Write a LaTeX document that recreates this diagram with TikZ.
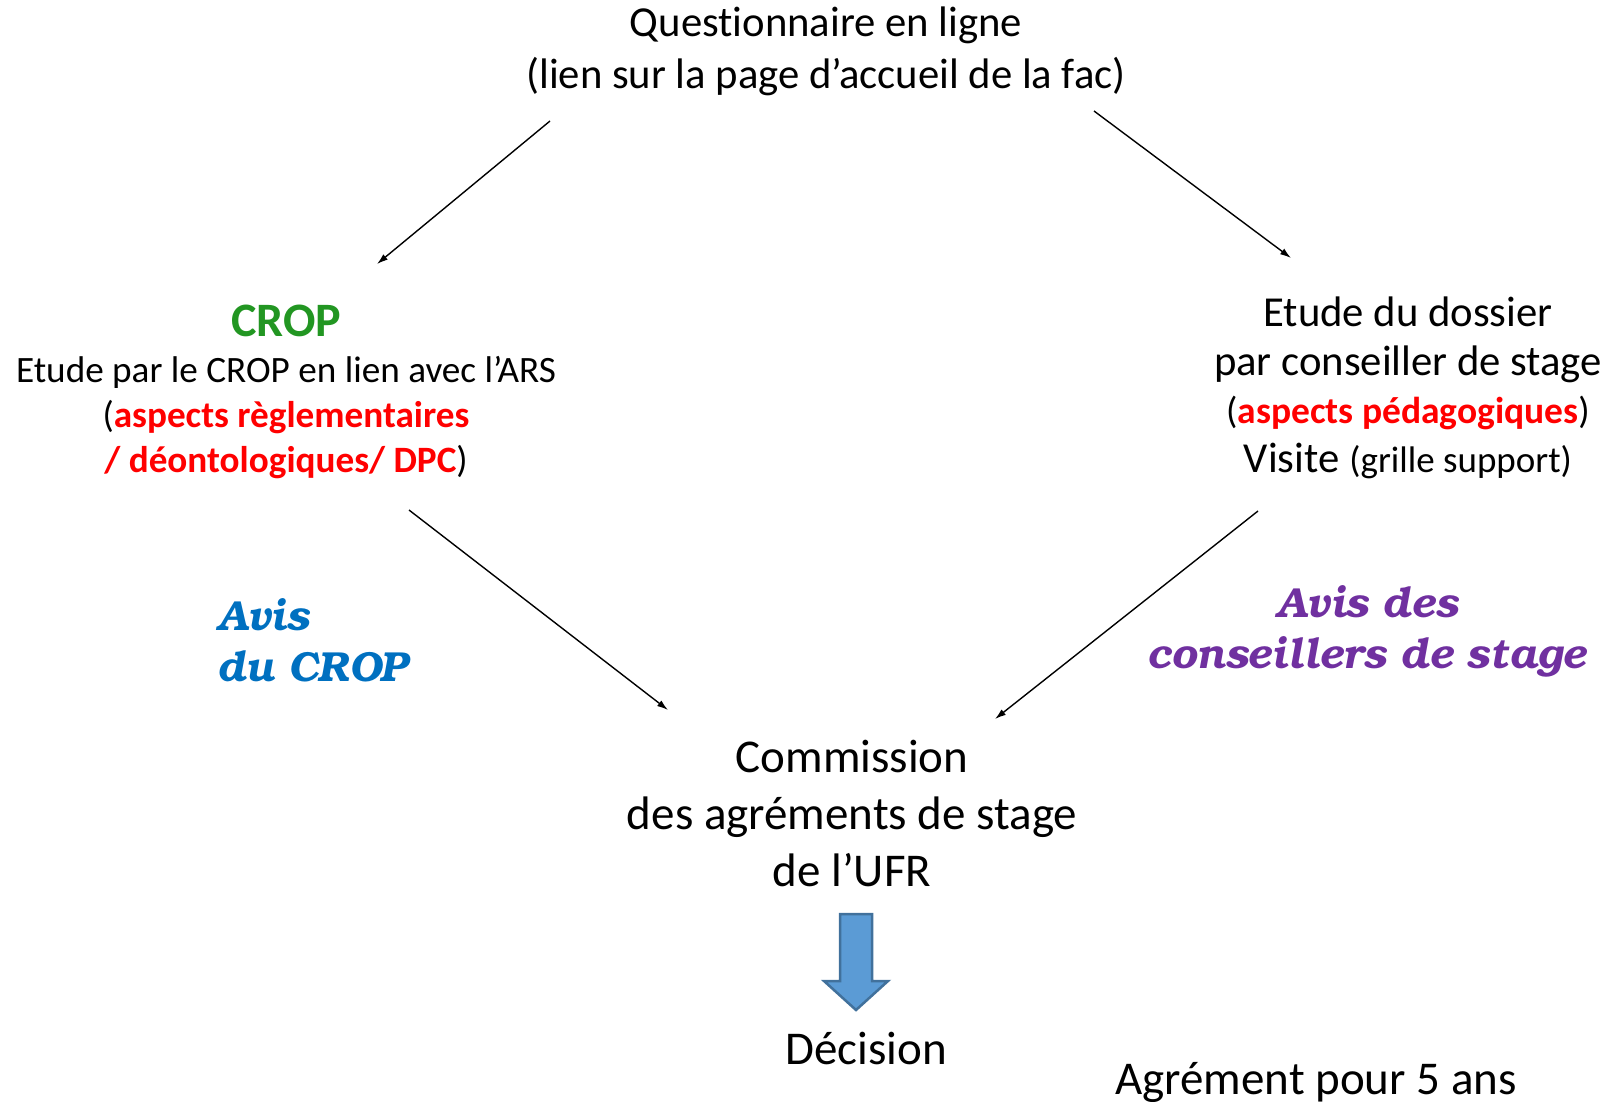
\documentclass[tikz,border=0pt]{standalone}
\usepackage[T1]{fontenc}
\usepackage{fontspec}
\setmainfont{Carlito}[Ligatures={NoCommon}]
\usetikzlibrary{arrows.meta}
\definecolor{cropgreen}{RGB}{34,150,34}
\definecolor{aspectred}{RGB}{255,0,0}
\definecolor{avisblue}{RGB}{0,112,192}
\definecolor{avispurple}{RGB}{112,48,160}
\definecolor{flechefill}{RGB}{91,155,213}
\definecolor{flecheline}{RGB}{65,113,156}
\newcommand\avisfont{\fontencoding{T1}\fontfamily{pbk}\fontseries{db}\fontshape{it}\fontsize{42}{51}\selectfont}
\newcommand\rouge[1]{\textcolor{aspectred}{\bfseries #1}}
\tikzset{
	bloc/.style={align=center, inner sep=0pt},
	fleche/.style={-{Latex[length=11pt,width=7pt]}, line width=1.4pt},
}

\begin{document}
\begin{tikzpicture}[x=1pt, y=-1pt]
				\useasboundingbox (0,0) rectangle (1607,1101);
				
				\node[bloc, font=\fontsize{42.7}{52}\selectfont] (questionnaire) at (826,51) {Questionnaire en ligne\\(lien sur la page d’accueil de la fac)};
				
				\node[bloc, font=\fontsize{48}{50}\selectfont\bfseries, text=cropgreen] (crop) at (286,321) {CROP};
				\node[bloc, font=\fontsize{37.2}{45}\selectfont] (etudecrop) at (286,418) {Etude par le CROP en lien avec l’ARS\\(\rouge{aspects règlementaires}\\\rouge{/ déontologiques/ DPC})};
				
				\node[bloc, font=\fontsize{42.7}{48.5}\selectfont] (etudedossier) at (1408,388) {Etude du dossier\\par conseiller de stage\\{\fontsize{37.5}{48.5}\selectfont(\rouge{aspects pédagogiques})}\\Visite {\fontsize{37}{48.5}\selectfont(grille support)}};
				
				\node[bloc, align=left, anchor=west, font=\avisfont, text=avisblue] (aviscrop) at (217,641) {Avis\\du CROP};
				\node[bloc, font=\avisfont, text=avispurple] (avisconseillers) at (1367,632) {Avis des\\conseillers de stage};
				
				\node[bloc, font=\fontsize{47}{57}\selectfont] (commission) at (852,813) {Commission\\des agréments de stage\\de l’UFR};
				\node[bloc, font=\fontsize{47}{57}\selectfont] (decision) at (866,1048) {Décision};
				\node[bloc, font=\fontsize{47}{57}\selectfont] (agrement) at (1316,1082) {Agrément pour 5 ans};
				
				\coordinate (q1) at (550,121);
				\coordinate (q2) at (1094,111);
				\coordinate (cropfin) at (377,264);
				\coordinate (dossierfin) at (1291,258);
				\coordinate (c1) at (409,510);
				\coordinate (c2) at (1258,511);
				\coordinate (commfin1) at (668,710);
				\coordinate (commfin2) at (995,719);
				
				\draw[fleche] (q1) -- (cropfin);
				\draw[fleche] (q2) -- (dossierfin);
				\draw[fleche] (c1) -- (commfin1);
				\draw[fleche] (c2) -- (commfin2);
				
				\draw[fill=flechefill, draw=flecheline, line width=2.5pt, line join=miter] (840,914) -- (872,914) -- (872,981) -- (888,981) -- (856,1010) -- (824,981) -- (840,981) -- cycle;
			\end{tikzpicture}
\end{document}
